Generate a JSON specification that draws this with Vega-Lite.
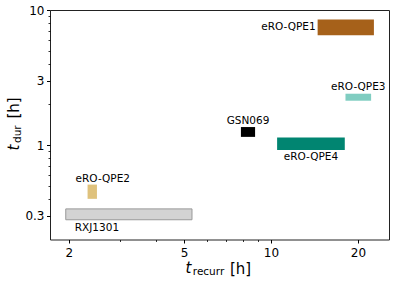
{
  "$schema": "https://vega.github.io/schema/vega-lite/v6.json",
  "width": 339,
  "height": 229.5,
  "autosize": {"type": "none"},
  "padding": {"left": 50, "top": 10, "right": 6, "bottom": 44.5},
  "background": "white",
  "config": {
    "view": {"stroke": "#222222", "strokeWidth": 1},
    "font": "DejaVu Sans",
    "axis": {"grid": false, "domain": false, "labelFlush": false, "labelOverlap": false, "tickColor": "black", "labelColor": "black", "titleColor": "black", "labelFont": "DejaVu Sans", "titleFont": "DejaVu Sans", "titleFontWeight": "normal"}
  },
  "data": {
    "values": [
      {"name": "eRO-QPE1", "trec_min": 14.5, "trec_max": 22.7, "tdur_min": 6.5, "tdur_max": 8.5},
      {"name": "eRO-QPE2", "trec_min": 2.32, "trec_max": 2.5, "tdur_min": 0.4, "tdur_max": 0.51},
      {"name": "eRO-QPE3", "trec_min": 18.1, "trec_max": 22.2, "tdur_min": 2.13, "tdur_max": 2.4},
      {"name": "eRO-QPE4", "trec_min": 10.5, "trec_max": 18.0, "tdur_min": 0.92, "tdur_max": 1.14},
      {"name": "GSN069", "trec_min": 7.87, "trec_max": 8.81, "tdur_min": 1.15, "tdur_max": 1.36},
      {"name": "RXJ1301", "trec_min": 1.95, "trec_max": 5.33, "tdur_min": 0.28, "tdur_max": 0.337}
    ]
  },
  "transform": [
    {"calculate": "sqrt(datum.trec_min * datum.trec_max)", "as": "trec_mid"},
    {"calculate": "sqrt(datum.tdur_min * datum.tdur_max)", "as": "tdur_mid"}
  ],
  "resolve": {"axis": {"x": "independent", "y": "independent"}},
  "layer": [
    {
      "mark": {"type": "rect", "strokeWidth": 1},
      "encoding": {
        "x": {"field": "trec_min", "type": "quantitative", "scale": {"type": "log", "domain": [1.72, 25.6], "nice": false},
              "axis": {"orient": "bottom", "values": [2, 5, 10, 20], "format": "~g", "tickSize": 3.5, "tickWidth": 1, "labelFontSize": 12, "labelPadding": 4.5,
                       "title": "t", "titleFontSize": 15, "titleFontStyle": "italic", "titleAlign": "left", "titleBaseline": "alphabetic", "titleAngle": 0, "titleX": 135, "titleY": 33}},
        "x2": {"field": "trec_max"},
        "y": {"field": "tdur_min", "type": "quantitative", "scale": {"type": "log", "domain": [0.2, 10], "nice": false},
              "axis": {"orient": "left", "values": [0.3, 1, 3, 10], "format": "~g", "tickSize": 3.5, "tickWidth": 1, "labelFontSize": 12, "labelPadding": 2.5,
                       "title": "t", "titleFontSize": 15, "titleFontStyle": "italic", "titleAlign": "left", "titleBaseline": "alphabetic", "titleAngle": 270, "titleX": -32, "titleY": 140}},
        "y2": {"field": "tdur_max"},
        "color": {"field": "name", "type": "nominal", "legend": null,
                  "scale": {"domain": ["eRO-QPE1", "eRO-QPE2", "eRO-QPE3", "eRO-QPE4", "GSN069", "RXJ1301"],
                            "range": ["#a6611a", "#dfc27d", "#80cdc1", "#018571", "#000000", "#d3d3d3"]}},
        "stroke": {"condition": {"test": "datum.name === 'RXJ1301'", "value": "#999999"}, "value": "transparent"}
      }
    },
    {
      "transform": [{"filter": {"field": "name", "oneOf": ["eRO-QPE1"]}}],
      "mark": {"type": "text", "align": "right", "baseline": "middle", "dx": -2, "fontSize": 10.5, "color": "black"},
      "encoding": {
        "x": {"field": "trec_min", "type": "quantitative", "scale": {"type": "log", "domain": [1.72, 25.6], "nice": false}, "axis": null},
        "y": {"field": "tdur_mid", "type": "quantitative", "scale": {"type": "log", "domain": [0.2, 10], "nice": false}, "axis": null},
        "text": {"field": "name"}
      }
    },
    {
      "transform": [{"filter": {"field": "name", "oneOf": ["eRO-QPE3", "GSN069"]}}],
      "mark": {"type": "text", "align": "center", "baseline": "alphabetic", "dy": -3.5, "fontSize": 10.5, "color": "black"},
      "encoding": {
        "x": {"field": "trec_mid", "type": "quantitative", "scale": {"type": "log", "domain": [1.72, 25.6], "nice": false}, "axis": null},
        "y": {"field": "tdur_max", "type": "quantitative", "scale": {"type": "log", "domain": [0.2, 10], "nice": false}, "axis": null},
        "text": {"field": "name"}
      }
    },
    {
      "transform": [{"filter": {"field": "name", "oneOf": ["eRO-QPE2"]}}],
      "mark": {"type": "text", "align": "left", "baseline": "alphabetic", "dx": -12, "dy": -3, "fontSize": 10.5, "color": "black"},
      "encoding": {
        "x": {"field": "trec_min", "type": "quantitative", "scale": {"type": "log", "domain": [1.72, 25.6], "nice": false}, "axis": null},
        "y": {"field": "tdur_max", "type": "quantitative", "scale": {"type": "log", "domain": [0.2, 10], "nice": false}, "axis": null},
        "text": {"field": "name"}
      }
    },
    {
      "transform": [{"filter": {"field": "name", "oneOf": ["eRO-QPE4"]}}],
      "mark": {"type": "text", "align": "center", "baseline": "alphabetic", "dy": 10, "fontSize": 10.5, "color": "black"},
      "encoding": {
        "x": {"field": "trec_mid", "type": "quantitative", "scale": {"type": "log", "domain": [1.72, 25.6], "nice": false}, "axis": null},
        "y": {"field": "tdur_min", "type": "quantitative", "scale": {"type": "log", "domain": [0.2, 10], "nice": false}, "axis": null},
        "text": {"field": "name"}
      }
    },
    {
      "transform": [{"filter": {"field": "name", "oneOf": ["RXJ1301"]}}],
      "mark": {"type": "text", "align": "left", "baseline": "alphabetic", "dx": 9, "dy": 11.3, "fontSize": 10.5, "color": "black"},
      "encoding": {
        "x": {"field": "trec_min", "type": "quantitative", "scale": {"type": "log", "domain": [1.72, 25.6], "nice": false}, "axis": null},
        "y": {"field": "tdur_min", "type": "quantitative", "scale": {"type": "log", "domain": [0.2, 10], "nice": false}, "axis": null},
        "text": {"field": "name"}
      }
    },
    {
      "mark": {"type": "point", "opacity": 0},
      "encoding": {
        "x": {"field": "trec_min", "type": "quantitative", "scale": {"type": "log", "domain": [1.72, 25.6], "nice": false},
              "axis": {"orient": "bottom", "values": [3, 4, 6, 7, 8, 9], "labels": false, "tickSize": 2, "tickWidth": 0.8,
                       "title": "recurr", "titleFontSize": 10.5, "titleAlign": "left", "titleBaseline": "alphabetic", "titleAngle": 0, "titleX": 142.3, "titleY": 35.3}},
        "y": {"field": "tdur_min", "type": "quantitative", "scale": {"type": "log", "domain": [0.2, 10], "nice": false},
              "axis": {"orient": "left", "values": [0.4, 0.5, 0.6, 0.7, 0.8, 0.9, 2, 4, 5, 6, 7, 8, 9], "labels": false, "tickSize": 2, "tickWidth": 0.8,
                       "title": "dur", "titleFontSize": 10.5, "titleAlign": "left", "titleBaseline": "alphabetic", "titleAngle": 270, "titleX": -29.5, "titleY": 132.5}}
      }
    },
    {
      "mark": {"type": "point", "opacity": 0},
      "encoding": {
        "x": {"field": "trec_min", "type": "quantitative", "scale": {"type": "log", "domain": [1.72, 25.6], "nice": false},
              "axis": {"orient": "bottom", "values": [], "labels": false, "ticks": false,
                       "title": "[h]", "titleFontSize": 15, "titleAlign": "left", "titleBaseline": "alphabetic", "titleAngle": 0, "titleX": 179.5, "titleY": 33.5}},
        "y": {"field": "tdur_min", "type": "quantitative", "scale": {"type": "log", "domain": [0.2, 10], "nice": false},
              "axis": {"orient": "left", "values": [], "labels": false, "ticks": false,
                       "title": "[h]", "titleFontSize": 15, "titleAlign": "left", "titleBaseline": "alphabetic", "titleAngle": 270, "titleX": -32, "titleY": 108}}
      }
    }
  ]
}
